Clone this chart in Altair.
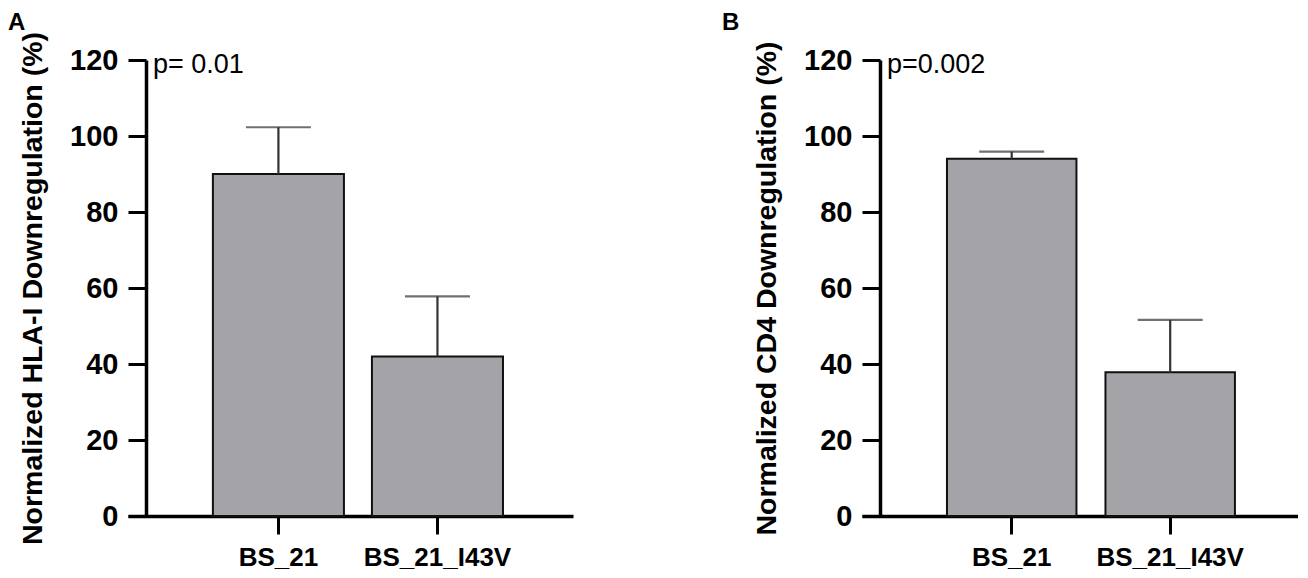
import altair as alt
import pandas as pd

categories = ["BS_21", "BS_21_I43V"]
hla_mean = [90.0, 42.0]
hla_upper = [102.3, 57.8]
cd4_mean = [94.0, 37.8]
cd4_upper = [95.9, 51.6]
y_ticks = [0, 20, 40, 60, 80, 100, 120]
panel_letters = ["A", "B"]
p_texts = ["p= 0.01", "p=0.002"]
y_titles = ["Normalized HLA-I Downregulation (%)", "Normalized CD4 Downregulation (%)"]

FONT = "Liberation Sans"


def panel(means, uppers, letter, ptext, ytitle, width, pinner, pouter, align, letter_x):
    df = pd.DataFrame({"cat": categories, "mean": means, "upper": uppers})
    xs = alt.Scale(domain=categories, paddingInner=pinner, paddingOuter=pouter, align=align)
    ys = alt.Scale(domain=[0, 120], nice=False, zero=True)
    xax = alt.Axis(title=None, labelAngle=0, tickSize=18, tickWidth=3, tickColor="black",
                   domainWidth=3.5, domainColor="black", labelFont=FONT, labelFontSize=26,
                   labelFontWeight="bold", labelColor="black", labelPadding=10, grid=False)
    yax = alt.Axis(title=ytitle, values=y_ticks, tickSize=18, tickWidth=3, tickColor="black",
                   domainWidth=3.5, domainColor="black", labelFont=FONT, labelFontSize=29,
                   labelFontWeight="bold", labelColor="black", labelPadding=10, offset=-18,
                   titleFont=FONT, titleFontSize=28.5, titleFontWeight="bold", titleColor="black",
                   titlePadding=22, grid=False)
    xenc = alt.X("cat:N", scale=xs, axis=xax, sort=categories)
    yenc = alt.Y("mean:Q", scale=ys, axis=yax)
    base = alt.Chart(df)
    bars = base.mark_bar(fill="#a3a3a8", stroke="#111111", strokeWidth=2).encode(x=xenc, y=yenc)
    stem = base.mark_rule(color="#333333", strokeWidth=2.2).encode(x=xenc, y=yenc, y2="upper:Q")
    cap = base.mark_tick(color="#333333", thickness=2.2, size=65).encode(
        x=xenc, y=alt.Y("upper:Q", scale=ys, axis=yax))
    ann = alt.Chart(pd.DataFrame({"t": [ptext]})).mark_text(
        align="left", baseline="alphabetic", fontSize=27, font=FONT, color="black"
    ).encode(x=alt.value(25), y=alt.value(13), text="t:N")
    lab = alt.Chart(pd.DataFrame({"t": [letter]})).mark_text(
        align="left", baseline="top", fontSize=24, fontWeight="bold", font=FONT, color="black"
    ).encode(x=alt.value(letter_x), y=alt.value(-49), text="t:N")
    return alt.layer(bars, stem, cap, ann, lab).properties(width=width, height=456)


pA = panel(hla_mean, hla_upper, panel_letters[0], p_texts[0], y_titles[0], 445, 0.176, 0.487, 0.548, -120)
pB = panel(cd4_mean, cd4_upper, panel_letters[1], p_texts[1], y_titles[1], 436, 0.183, 0.467, 0.574, -140)

chart = alt.hconcat(pA, pB, spacing=149).properties(
    padding={"left": 0, "top": 3, "right": 0, "bottom": 0}
).configure_view(stroke=None)

chart.save("out.html", embed_options={"renderer": "svg", "actions": False})
